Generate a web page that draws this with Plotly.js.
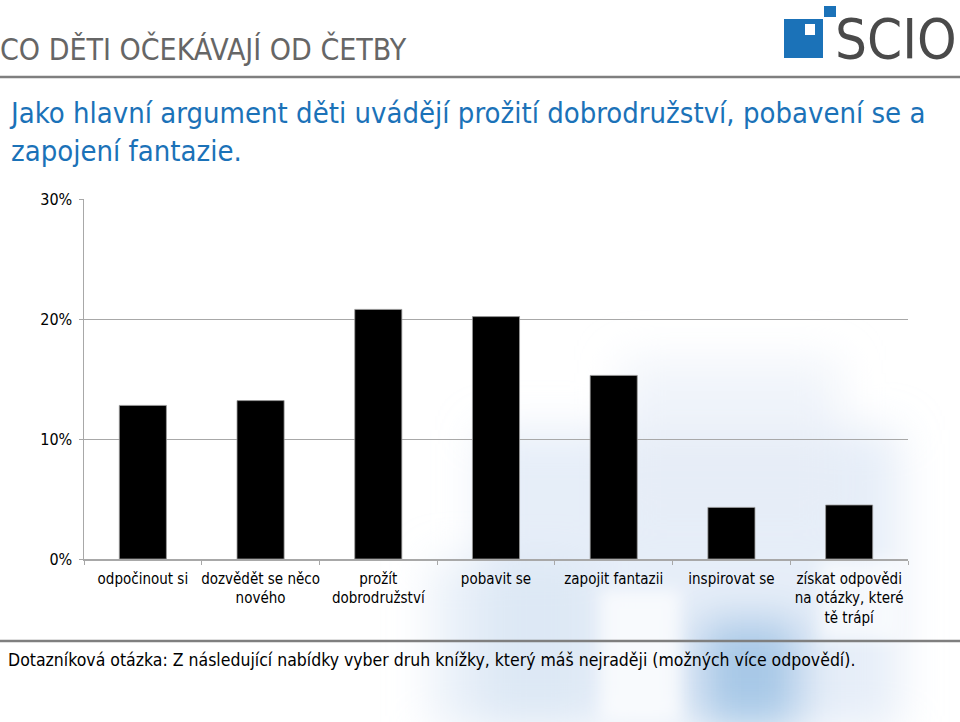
<!DOCTYPE html>
<html>
<head>
<meta charset="utf-8">
<script src="https://cdn.plot.ly/plotly-3.0.1.min.js"></script>
<style>html,body{margin:0;padding:0;background:#fff}#chart{width:960px;height:722px}</style>
</head>
<body>
<div id="chart"></div>
<script>
// Data
const categories = [
  "odpočinout si",
  "dozvědět se něco<br>nového",
  "prožít<br>dobrodružství",
  "pobavit se",
  "zapojit fantazii",
  "inspirovat se",
  "získat odpovědi<br>na otázky, které<br>tě trápí"
];
const values = [12.8, 13.2, 20.8, 20.2, 15.3, 4.3, 4.5];
const yTickVals = [0, 10, 20, 30];
const yTickText = ["0%", "10%", "20%", "30%"];

const headTitle = "CO DĚTI OČEKÁVAJÍ OD ČETBY";
const subTitle = "Jako hlavní argument děti uvádějí prožití dobrodružství, pobavení se a<br>zapojení fantazie.";
const footNote = "Dotazníková otázka: Z následující nabídky vyber druh knížky, který máš nejraději (možných více odpovědí).";
const logoText = "SCIO";

// pixel -> paper helpers
const L = 84, R = 52, T = 199, B = 163, W = 960, H = 722;
const pw = W - L - R, ph = H - T - B;
const px = x => (x - L) / pw;
const py = y => (H - B - y) / ph;

const font = "'DejaVu Sans Condensed', 'DejaVu Sans', sans-serif";
const blue = "#1b72b8";

const bgSvg = `<svg xmlns='http://www.w3.org/2000/svg' width='960' height='722'>
<defs><filter id='b' x='-50%' y='-50%' width='200%' height='200%'><feGaussianBlur stdDeviation='22'/></filter>
<filter id='c' x='-50%' y='-50%' width='200%' height='200%'><feGaussianBlur stdDeviation='8'/></filter></defs>
<g filter='url(#b)'>
<rect x='480' y='430' width='420' height='300' fill='#d2e0f2' opacity='0.55'/>
<rect x='430' y='560' width='160' height='170' fill='#d6e3f4' opacity='0.5'/>
<rect x='700' y='620' width='100' height='110' fill='#86b3df' opacity='0.65'/>
<rect x='620' y='360' width='220' height='160' fill='#e6edf7' opacity='0.6'/>
</g>
<g filter='url(#c)'>
<rect x='600' y='590' width='80' height='130' fill='#ffffff' opacity='0.7'/>
<rect x='820' y='560' width='80' height='80' fill='#ffffff' opacity='0.6'/>
</g>
</svg>`;

const data = [{
  type: "bar",
  x: categories,
  y: values,
  marker: { color: "#000000", line: { color: "#9a9a9a", width: 0.8 } },
  hoverinfo: "x+y"
}];

const layout = {
  width: W, height: H,
  margin: { l: L, r: R, t: T, b: B },
  paper_bgcolor: "rgba(0,0,0,0)",
  plot_bgcolor: "rgba(0,0,0,0)",
  showlegend: false,
  bargap: 0.6,
  font: { family: font, size: 15, color: "#000" },
  xaxis: {
    type: "category",
    showline: true, linecolor: "#a8a8a8", linewidth: 1.5,
    ticks: "outside", tickson: "boundaries", ticklen: 4, tickcolor: "#a8a8a8",
    showgrid: false,
    tickangle: 0,
    automargin: false,
    ticklabelstandoff: 5,
    tickfont: { family: font, size: 15, color: "#000" },
    fixedrange: true
  },
  yaxis: {
    range: [0, 30],
    tickvals: yTickVals, ticktext: yTickText,
    showline: true, linecolor: "#a8a8a8", linewidth: 1.5,
    ticks: "outside", ticklen: 4, tickcolor: "#a8a8a8",
    showgrid: true, gridcolor: "#a8a8a8", gridwidth: 1,
    zeroline: false,
    automargin: false,
    tickfont: { family: font, size: 16, color: "#000" },
    ticklabelstandoff: 3,
    fixedrange: true
  },
  images: [{
    source: "data:image/svg+xml;charset=utf-8," + encodeURIComponent(bgSvg),
    xref: "paper", yref: "paper",
    x: px(0), y: py(0), sizex: W / pw, sizey: H / ph,
    xanchor: "left", yanchor: "top", sizing: "stretch", layer: "below"
  }],
  shapes: [
    { type: "line", xref: "paper", yref: "paper", x0: px(0), x1: px(960), y0: py(77), y1: py(77), line: { color: "#7f7f7f", width: 2.5 } },
    { type: "line", xref: "paper", yref: "paper", x0: px(0), x1: px(960), y0: py(641), y1: py(641), line: { color: "#7f7f7f", width: 2.5 } },
    // logo
    { type: "rect", xref: "paper", yref: "paper", x0: px(784), x1: px(823), y0: py(19), y1: py(58), fillcolor: blue, line: { width: 0 } },
    { type: "rect", xref: "paper", yref: "paper", x0: px(805), x1: px(815), y0: py(24), y1: py(35), fillcolor: "#ffffff", line: { width: 0 } },
    { type: "rect", xref: "paper", yref: "paper", x0: px(824), x1: px(836), y0: py(6), y1: py(17), fillcolor: blue, line: { width: 0 } }
  ],
  annotations: [
    { text: headTitle, xref: "paper", yref: "paper", x: px(-2), y: py(49), xanchor: "left", yanchor: "middle", showarrow: false,
      font: { family: font, size: 30, color: "#666666" } },
    { text: subTitle, xref: "paper", yref: "paper", x: px(7), y: py(132), xanchor: "left", yanchor: "middle", align: "left", showarrow: false,
      font: { family: font, size: 29, color: blue } },
    { text: footNote, xref: "paper", yref: "paper", x: px(6), y: py(660), xanchor: "left", yanchor: "middle", showarrow: false,
      font: { family: font, size: 17.5, color: "#000" } },
    { text: logoText, xref: "paper", yref: "paper", x: px(833), y: py(38), xanchor: "left", yanchor: "middle", showarrow: false,
      font: { family: "'DejaVu Sans Condensed', sans-serif", size: 56, color: "#4a4a4a" } }
  ]
};

Plotly.newPlot("chart", data, layout, { staticPlot: true, displayModeBar: false });
</script>
</body>
</html>
